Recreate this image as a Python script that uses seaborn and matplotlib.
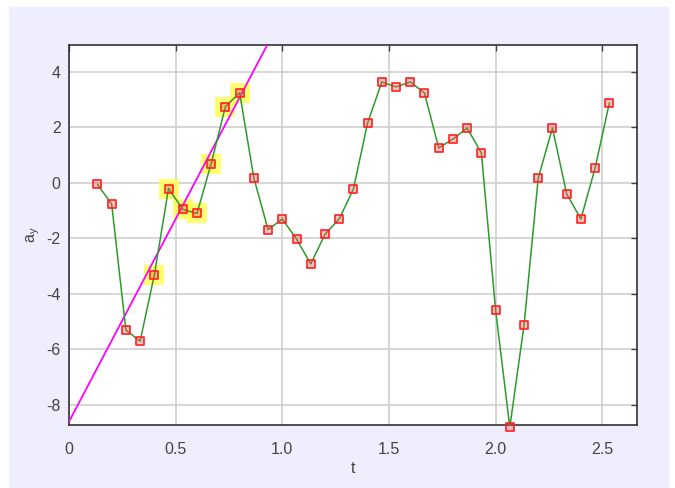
import matplotlib
matplotlib.use("Agg")
import matplotlib.pyplot as plt
import matplotlib.patches as patches
import numpy as np
import pandas as pd
import seaborn as sns

# samples, t = k/15
t_vals = [k / 15 for k in range(2, 39)]
ay_vals = [-0.05, -0.76, -5.3, -5.7, -3.32, -0.2, -0.95, -1.1, 0.7, 2.75,
           3.25, 0.18, -1.68, -1.3, -2.02, -2.92, -1.85, -1.3, -0.22, 2.16,
           3.64, 3.46, 3.64, 3.24, 1.26, 1.58, 1.98, 1.08, -4.58, -8.8,
           -5.13, 0.18, 1.98, -0.4, -1.3, 0.54, 2.88]
# indices of the selected (highlighted) points
selected = [4, 5, 6, 7, 8, 9, 10]

x_ticks = [0, 0.5, 1.0, 1.5, 2.0, 2.5]
x_labels = ["0", "0.5", "1.0", "1.5", "2.0", "2.5"]
y_ticks = [-8, -6, -4, -2, 0, 2, 4]
y_labels = ["-8", "-6", "-4", "-2", "0", "2", "4"]

df = pd.DataFrame({"t": t_vals, "ay": ay_vals})
sel = df.iloc[selected]

sns.set_style("white")
plt.rcParams["font.family"] = ["Liberation Sans", "DejaVu Sans"]

fig = plt.figure(figsize=(6.75, 4.88), dpi=100, facecolor="white")
fig.patches.append(patches.Rectangle((9 / 675, 0), 659 / 675, 1 - 7 / 488,
                                     transform=fig.transFigure, color="#eeeeff",
                                     zorder=-10))
ax = fig.add_axes([69 / 675, 1 - 425 / 488, 568 / 675, 380 / 488])
ax.set_facecolor("white")

# fit line through selected points
slope, icpt = np.polyfit(sel["t"], sel["ay"], 1)
line_t = np.array([0, 2.7])
sns.lineplot(x=line_t, y=icpt + slope * line_t, color="#ff00ff", lw=1.3, ax=ax, zorder=3)

sns.scatterplot(data=sel, x="t", y="ay", marker="s", s=190, color="#ffff4d",
                alpha=0.8, linewidth=0, ax=ax, zorder=2)
sns.lineplot(data=df, x="t", y="ay", color="#2e9a2e", lw=1.1, ax=ax, zorder=4)
sns.scatterplot(data=df, x="t", y="ay", marker="s", s=40,
                facecolor=(1, 0.3, 0.3, 0.35), edgecolor="#ff2020", linewidth=1.2,
                ax=ax, zorder=5, clip_on=False)

ax.set_xlim(0, 2.663)
ax.set_ylim(-8.72, 4.97)
ax.set_xticks(x_ticks)
ax.set_xticklabels(x_labels)
ax.set_yticks(y_ticks)
ax.set_yticklabels(y_labels)
ax.grid(True, color="#cccccc", lw=1.1)
ax.tick_params(direction="in", length=4, width=1, color="#444444",
               labelcolor="#444444", labelsize=11.5, top=True, right=True,
               labeltop=False, labelright=False)
ax.tick_params(axis="x", pad=12)
ax.tick_params(axis="y", pad=6)
for s in ax.spines.values():
    s.set_color("#333333")
    s.set_linewidth(1.2)
ax.set_xlabel("t", color="#444444", fontsize=11.5, labelpad=3)
ax.set_ylabel("a$_\\mathregular{y}$", color="#444444", fontsize=11.5, labelpad=3)

fig.savefig("out.png", dpi=100, facecolor=fig.get_facecolor())
